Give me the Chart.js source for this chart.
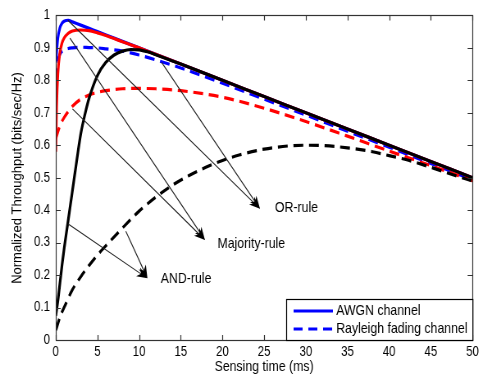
<!DOCTYPE html>
<html>
<head>
<meta charset="utf-8">
<title>Normalized throughput vs sensing time</title>
<script src="https://cdn.jsdelivr.net/npm/chart.js@4.4.1/dist/chart.umd.min.js"></script>
<style>
  html, body { margin: 0; padding: 0; background: #fff; }
  #wrap { width: 482px; height: 377px; overflow: hidden; }
  /* the plot is drawn wide and squeezed horizontally, giving narrow lettering */
  #chart { transform: scaleX(0.82); transform-origin: 0 0; }
</style>
</head>
<body>
<div id="wrap"><canvas id="chart" width="588" height="377"></canvas></div>
<script>
const FONT = "'Liberation Sans', Arial, Helvetica, sans-serif";
const SQUEEZE = 0.82;

// OR rule, AWGN channel
const tOrAwgn = [0, 0.25, 0.5, 0.75, 1, 1.5, 2, 3, 4, 5, 7, 10, 15, 20, 25, 30, 35, 40, 45, 50];
const rOrAwgn = [0.855, 0.93, 0.962, 0.976, 0.982, 0.985, 0.98, 0.97, 0.96, 0.95, 0.93, 0.9, 0.85, 0.8, 0.75, 0.7, 0.65, 0.6, 0.55, 0.5];

// OR rule, Rayleigh fading
const tOrRay = [0, 0.25, 0.5, 1, 1.5, 2, 3, 4, 5, 6, 8, 10, 12, 15, 20, 25, 30, 35, 40, 45, 50];
const rOrRay = [0.8, 0.86, 0.88, 0.893, 0.898, 0.9, 0.902, 0.901, 0.9, 0.897, 0.89, 0.878, 0.863, 0.838, 0.791, 0.742, 0.693, 0.643, 0.594, 0.544, 0.494];

// Majority rule, AWGN channel
const tMajAwgn = [0, 0.1, 0.25, 0.5, 0.75, 1, 1.5, 2, 3, 4, 5, 6, 8, 10, 12, 15, 20, 25, 30, 35, 40, 45, 50];
const rMajAwgn = [0.58, 0.72, 0.82, 0.885, 0.915, 0.93, 0.945, 0.952, 0.955, 0.953, 0.946, 0.938, 0.919, 0.9, 0.88, 0.85, 0.8, 0.75, 0.7, 0.65, 0.6, 0.55, 0.5];

// Majority rule, Rayleigh fading
const tMajRay = [0, 0.5, 1, 2, 3, 4, 5, 6, 8, 10, 12, 15, 20, 25, 30, 35, 40, 45, 50];
const rMajRay = [0.62, 0.66, 0.685, 0.72, 0.742, 0.755, 0.763, 0.768, 0.774, 0.775, 0.774, 0.768, 0.748, 0.714, 0.673, 0.628, 0.582, 0.537, 0.491];

// AND rule, AWGN channel
const tAndAwgn = [0, 0.25, 0.5, 0.75, 1, 1.5, 2, 2.5, 3, 3.5, 4, 5, 6, 7, 8, 9, 10, 11, 12, 15, 20, 25, 30, 35, 40, 45, 50];
const rAndAwgn = [0.075, 0.12, 0.175, 0.23, 0.28, 0.37, 0.46, 0.55, 0.635, 0.695, 0.745, 0.815, 0.855, 0.878, 0.89, 0.895, 0.894, 0.888, 0.879, 0.85, 0.8, 0.75, 0.7, 0.65, 0.6, 0.55, 0.5];

// AND rule, Rayleigh fading
const tAndRay = [0, 0.5, 1, 2, 3, 4, 5, 6, 8, 10, 12, 14, 16, 18, 20, 22, 25, 28, 30, 32, 35, 38, 40, 42, 45, 48, 50];
const rAndRay = [0.03, 0.07, 0.1, 0.155, 0.195, 0.23, 0.262, 0.29, 0.345, 0.397, 0.44, 0.477, 0.507, 0.532, 0.553, 0.57, 0.588, 0.598, 0.6, 0.599, 0.592, 0.58, 0.568, 0.556, 0.532, 0.506, 0.49];

// annotation labels, their anchor (ms, throughput) and the arrows pointing at them
const ruleNames = ['OR-rule', 'Majority-rule', 'AND-rule'];
const ruleTextAt = [[26.3, 0.406], [19.4, 0.297], [12.6, 0.188]];
const ruleTips = [[24.5, 0.404], [17.9, 0.308], [11.0, 0.19]];
const ruleTails = [
  [[1.45, 0.985], [12.7, 0.855]],
  [[1.7, 0.93], [2.0, 0.712]],
  [[1.45, 0.358], [8.4, 0.335]]
];

const legendNames = ['AWGN channel', 'Rayleigh fading channel'];
const yTitle = 'Normalized Throughput (bits/sec/Hz)';

const pts = (t, r) => t.map((v, i) => ({ x: v, y: r[i] }));

function curve(t, r, color, dashed) {
  return {
    data: pts(t, r),
    borderColor: color,
    borderWidth: 3.2,
    borderDash: dashed ? [12, 7] : [],
    cubicInterpolationMode: 'monotone',
    pointRadius: 0,
    fill: false
  };
}

function arrow(ctx, x0, y0, x1, y1) {
  const dx = x1 - x0, dy = y1 - y0;
  const len = Math.hypot(dx, dy);
  const ux = dx / len, uy = dy / len;
  const nx = -uy, ny = ux;
  const L = 13, W = 5;
  ctx.beginPath();
  ctx.moveTo(x0, y0);
  ctx.lineTo(x1 - ux * L * 0.7, y1 - uy * L * 0.7);
  ctx.stroke();
  ctx.beginPath();
  ctx.moveTo(x1, y1);
  ctx.lineTo(x1 - ux * L + nx * W, y1 - uy * L + ny * W);
  ctx.lineTo(x1 - ux * L * 0.7, y1 - uy * L * 0.7);
  ctx.lineTo(x1 - ux * L - nx * W, y1 - uy * L - ny * W);
  ctx.closePath();
  ctx.fill();
}

// box, inward ticks, y title, rule annotations and the legend
const decorations = {
  id: 'decorations',
  afterDraw(chart) {
    const { ctx, chartArea: a, scales: { x, y } } = chart;
    ctx.save();

    ctx.strokeStyle = '#333';
    ctx.lineWidth = 1.2;
    ctx.beginPath();
    x.ticks.forEach(t => {
      const px = Math.round(x.getPixelForValue(t.value)) + 0.5;
      ctx.moveTo(px, a.bottom); ctx.lineTo(px, a.bottom - 5);
      ctx.moveTo(px, a.top); ctx.lineTo(px, a.top + 5);
    });
    y.ticks.forEach(t => {
      const py = Math.round(y.getPixelForValue(t.value)) + 0.5;
      ctx.moveTo(a.left, py); ctx.lineTo(a.left + 6, py);
      ctx.moveTo(a.right, py); ctx.lineTo(a.right - 6, py);
    });
    ctx.stroke();
    ctx.strokeRect(Math.round(a.left) + 0.5, Math.round(a.top) + 0.5,
      Math.round(a.right - a.left), Math.round(a.bottom - a.top));

    // vertical axis title, undo the squeeze so it keeps normal proportions
    ctx.save();
    ctx.translate(22, 178);
    ctx.scale(1 / SQUEEZE, 1);
    ctx.rotate(-Math.PI / 2);
    ctx.font = '13px ' + FONT;
    ctx.fillStyle = '#000';
    ctx.textAlign = 'center';
    ctx.textBaseline = 'middle';
    ctx.fillText(yTitle, 0, 0);
    ctx.restore();

    // rule arrows
    ctx.strokeStyle = '#222';
    ctx.fillStyle = '#000';
    ctx.lineWidth = 1.1;
    ruleTips.forEach((tip, i) => {
      const tx = x.getPixelForValue(tip[0]), ty = y.getPixelForValue(tip[1]);
      ruleTails[i].forEach(s => {
        arrow(ctx, x.getPixelForValue(s[0]), y.getPixelForValue(s[1]), tx, ty);
      });
    });
    ctx.font = '15px ' + FONT;
    ctx.textAlign = 'left';
    ctx.textBaseline = 'middle';
    ctx.fillStyle = '#000';
    ruleNames.forEach((n, i) => {
      ctx.fillText(n, x.getPixelForValue(ruleTextAt[i][0]), y.getPixelForValue(ruleTextAt[i][1]));
    });

    // legend
    const lx = 349, ly = 299, lw = a.right - lx, lh = a.bottom - ly;
    ctx.fillStyle = '#fff';
    ctx.fillRect(lx, ly, lw, lh);
    ctx.strokeStyle = '#000';
    ctx.lineWidth = 1.2;
    ctx.strokeRect(lx + 0.5, ly + 0.5, lw, lh);
    legendNames.forEach((n, i) => {
      const yy = ly + 12 + i * 18;
      ctx.strokeStyle = '#0000ff';
      ctx.lineWidth = 2.8;
      ctx.setLineDash(i ? [11, 7] : []);
      ctx.beginPath();
      ctx.moveTo(lx + 9, yy); ctx.lineTo(lx + 57, yy);
      ctx.stroke();
      ctx.setLineDash([]);
      ctx.fillStyle = '#000';
      ctx.fillText(n, lx + 61, yy);
    });
    ctx.restore();
  }
};

new Chart(document.getElementById('chart'), {
  type: 'line',
  data: {
    datasets: [
      curve(tAndAwgn, rAndAwgn, '#000000', false),
      curve(tAndRay, rAndRay, '#000000', true),
      curve(tMajAwgn, rMajAwgn, '#ff0000', false),
      curve(tMajRay, rMajRay, '#ff0000', true),
      curve(tOrAwgn, rOrAwgn, '#0000ff', false),
      curve(tOrRay, rOrRay, '#0000ff', true)
    ]
  },
  options: {
    responsive: false,
    animation: false,
    layout: { padding: { top: 10, right: 11, left: 0, bottom: 0 } },
    plugins: { legend: { display: false }, tooltip: { enabled: false } },
    scales: {
      x: {
        type: 'linear', min: 0, max: 50,
        grid: { display: false, drawTicks: false },
        border: { display: false },
        ticks: { stepSize: 5, maxRotation: 0, padding: 4, color: '#000', font: { family: FONT, size: 14 } },
        title: { display: true, text: 'Sensing time (ms)', color: '#000', font: { family: FONT, size: 15 }, padding: { top: 0, bottom: 1 } },
        afterFit: s => { s.height = 37; }
      },
      y: {
        min: 0, max: 1,
        grid: { display: false, drawTicks: false },
        border: { display: false },
        ticks: { stepSize: 0.1, padding: 7, color: '#000', font: { family: FONT, size: 14 },
                 callback: v => String(Math.round(v * 10) / 10) },
        title: { display: false },
        afterFit: s => { s.width = 68; }
      }
    }
  },
  plugins: [decorations]
});
</script>
</body>
</html>
